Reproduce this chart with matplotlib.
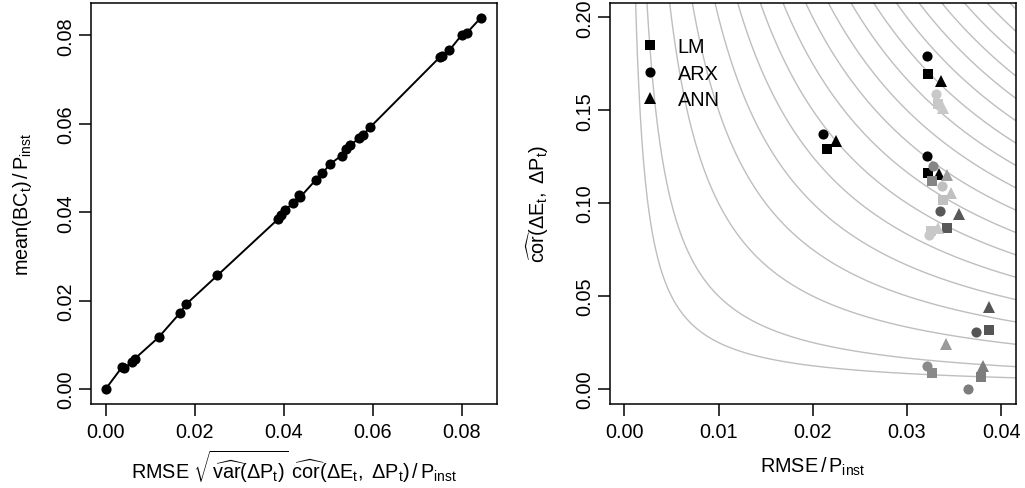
import numpy as np
import matplotlib
matplotlib.use("Agg")
import matplotlib.pyplot as plt
from matplotlib.lines import Line2D

plt.rcParams['font.family'] = ['Liberation Sans', 'DejaVu Sans']
plt.rcParams['mathtext.fontset'] = 'custom'
plt.rcParams['mathtext.rm'] = 'Liberation Sans'
plt.rcParams['mathtext.it'] = 'Liberation Sans'
plt.rcParams['mathtext.sf'] = 'Liberation Sans'
plt.rcParams['mathtext.bf'] = 'Liberation Sans:bold'

# ---------------- data: left panel ----------------
bc_x = [0.0, 0.00375, 0.0042, 0.00584, 0.0066, 0.0119, 0.0167, 0.0181, 0.0251,
        0.0388, 0.0393, 0.0404, 0.0422, 0.0435, 0.0437, 0.0472, 0.0487, 0.0504,
        0.0530, 0.0540, 0.0549, 0.0570, 0.0578, 0.0594, 0.0751, 0.0755, 0.0772,
        0.0800, 0.0811, 0.0843]
bc_y = [0.0, 0.00506, 0.0047, 0.00604, 0.0069, 0.0117, 0.0172, 0.0192, 0.0257,
        0.0385, 0.0394, 0.0406, 0.0421, 0.0439, 0.0434, 0.0473, 0.0488, 0.0509,
        0.0528, 0.0542, 0.0551, 0.0568, 0.0575, 0.0592, 0.0751, 0.0753, 0.0766,
        0.0801, 0.0805, 0.0840]

# ---------------- data: right panel ----------------
# one entry per data set (same order for all three models)
set_colors = ['#000000', '#000000', '#000000', '#C8C8C8', '#858585', '#C0C0C0',
              '#585858', '#C8C8C8', '#555555', '#8A8A8A', '#7D7D7D']
lm_x  = [0.03224, 0.02149, 0.03221, 0.03327, 0.03266, 0.0338, 0.03426, 0.0326, 0.03868, 0.03266, 0.03783]
lm_y  = [0.1695, 0.1292, 0.1163, 0.1534, 0.1121, 0.1019, 0.0865, 0.0850, 0.0319, 0.0086, 0.0065]
arx_x = [0.03217, 0.02113, 0.03217, 0.03306, 0.03274, 0.03369, 0.03355, 0.03235, 0.03734, 0.0321, 0.03652]
arx_y = [0.1790, 0.1372, 0.1256, 0.1588, 0.1202, 0.1094, 0.0958, 0.0830, 0.0305, 0.0122, 0.0]
ann_x = [0.0336, 0.02247, 0.03344, 0.03386, 0.03422, 0.03465, 0.03553, 0.0333, 0.03875, 0.03415, 0.03805]
ann_y = [0.1655, 0.1332, 0.1157, 0.1512, 0.1150, 0.1052, 0.0940, 0.0868, 0.0442, 0.0240, 0.0122]
ann_colors = ['#000000', '#000000', '#000000', '#C8C8C8', '#A0A0A0', '#C0C0C0',
              '#585858', '#C8C8C8', '#555555', '#9A9A9A', '#7D7D7D']

iso_levels = [0.00025, 0.0005, 0.001, 0.0015, 0.002, 0.0025, 0.003, 0.0035,
              0.004, 0.0045, 0.005, 0.0055, 0.006, 0.0065, 0.007, 0.0075, 0.008, 0.0085]

left_ticks = [0.00, 0.02, 0.04, 0.06, 0.08]
right_xticks = [0.00, 0.01, 0.02, 0.03, 0.04]
right_yticks = [0.00, 0.05, 0.10, 0.15, 0.20]

FS = 14.3
MS_O, MS_S, MS_T = 7.3, 7.0, 8.6
W, H = 1025, 489
fig = plt.figure(figsize=(W / 100, H / 100), dpi=100)

def px_axes(l, t, r, b):
    return fig.add_axes([l / W, 1 - b / H, (r - l) / W, (b - t) / H])

axL = px_axes(91, 4, 497, 404.5)
axR = px_axes(610, 4, 1016, 404.5)

for ax in (axL, axR):
    for s in ax.spines.values():
        s.set_linewidth(1.1)
        s.set_color('black')
    ax.tick_params(direction='out', length=8.6, width=1.1, labelsize=FS, color='black')
    ax.tick_params(axis='x', pad=4.7)
    ax.tick_params(axis='y', pad=3.0)

# left panel
order = np.argsort(bc_x)
axL.plot(np.array(bc_x)[order], np.array(bc_y)[order], color='black', lw=1.4, zorder=2)
axL.plot(bc_x, bc_y, 'o', color='black', ms=MS_O, mew=0, zorder=3)
axL.set_xlim(-0.0033, 0.08793)
axL.set_ylim(-0.00328, 0.08733)
axL.set_xticks(left_ticks)
axL.set_yticks(left_ticks)
axL.set_xticklabels([f'{v:.2f}' for v in left_ticks])
axL.set_yticklabels([f'{v:.2f}' for v in left_ticks], rotation=90, va='center')
axL.set_xlabel(r'RMSE $\sqrt{\widehat{\mathrm{var}}(\Delta P_t)}\ \widehat{\mathrm{cor}}(\Delta E_t,\ \Delta P_t)\,/\,P_{\mathrm{inst}}$',
               fontsize=FS)
axL.set_ylabel(r'mean(BC$_t$)$\,/\,$P$_{\mathrm{inst}}$', fontsize=FS)
axL.xaxis.set_label_coords(0.5, -(467 - 404.5) / 400.5)
axL.xaxis.label.set_va('center')
axL.yaxis.set_label_coords(-(91 - 22) / 406, 0.5)
axL.yaxis.label.set_va('center')

# right panel
xlimR = (-0.00152, 0.04158)
ylimR = (-0.0078, 0.2077)
gx = np.linspace(1e-6, xlimR[1], 1600)
gy = np.linspace(1e-6, ylimR[1], 1600)
GX, GY = np.meshgrid(gx, gy)
axR.contour(GX, GY, GX * GY, levels=iso_levels, colors='#BEBEBE', linewidths=1.0, zorder=1)

for i in range(len(lm_x)):
    axR.plot(arx_x[i], arx_y[i], 'o', color=set_colors[i], ms=MS_O, mew=0, zorder=3)
    axR.plot(lm_x[i], lm_y[i], 's', color=set_colors[i], ms=MS_S, mew=0, zorder=3)
    axR.plot(ann_x[i], ann_y[i], '^', color=ann_colors[i], ms=MS_T, mew=0, zorder=3)

axR.set_xlim(*xlimR)
axR.set_ylim(*ylimR)
axR.set_xticks(right_xticks)
axR.set_yticks(right_yticks)
axR.set_xticklabels([f'{v:.2f}' for v in right_xticks])
axR.set_yticklabels([f'{v:.2f}' for v in right_yticks], rotation=90, va='center')
axR.set_xlabel(r'RMSE$\,/\,$P$_{\mathrm{inst}}$', fontsize=FS)
axR.set_ylabel(r'$\widehat{\mathrm{cor}}(\Delta E_t,\ \Delta P_t)$', fontsize=FS)
axR.xaxis.set_label_coords(0.5, -(467 - 404.5) / 400.5)
axR.xaxis.label.set_va('center')
axR.yaxis.set_label_coords(-(610 - 538) / 406, 0.5)
axR.yaxis.label.set_va('center')

handles = [Line2D([], [], ls='none', marker='s', color='black', ms=MS_S, mew=0),
           Line2D([], [], ls='none', marker='o', color='black', ms=MS_O, mew=0),
           Line2D([], [], ls='none', marker='^', color='black', ms=MS_T, mew=0)]
axR.legend(handles, ['LM', 'ARX', 'ANN'], loc='upper left',
           bbox_to_anchor=((639.75 - 610) / 406, 1 - (38 - 4) / 400.5),
           frameon=False, fontsize=FS, handlelength=1.0, handletextpad=0.9,
           borderpad=0, borderaxespad=0, labelspacing=0.38)

fig.savefig('out.png', dpi=100)
